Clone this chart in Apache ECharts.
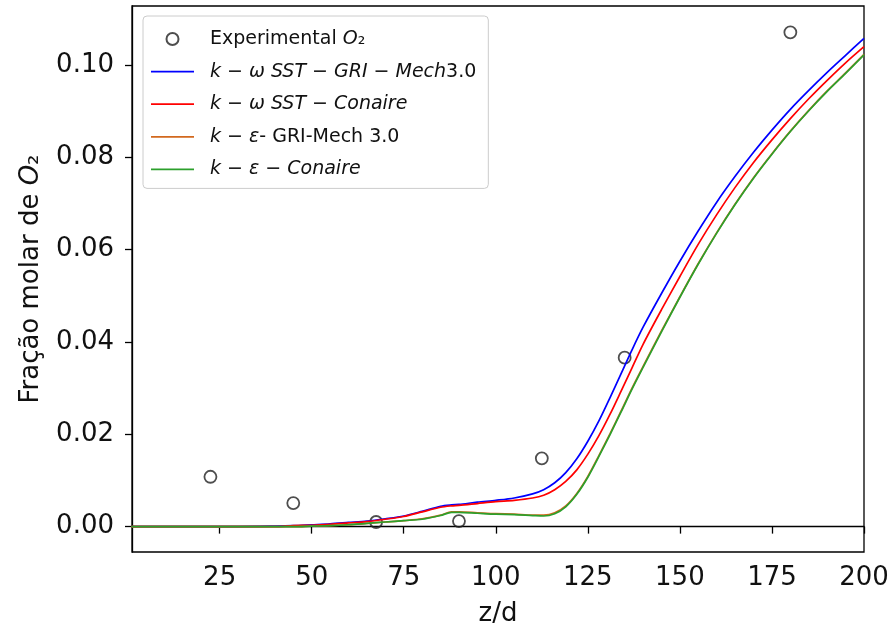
<!DOCTYPE html>
<html lang="pt">
<head>
    <meta charset="UTF-8">
    <title>Fração molar de O2</title>
    <script src="https://cdn.jsdelivr.net/npm/echarts@6/dist/echarts.min.js"></script>
</head>
<body style="margin: 0; background: #fff">
<div id="chart" style="width: 892px; height: 632px"></div>

<script>
    // pontos experimentais
    let expZ = [22.5, 45, 67.5, 90, 112.5, 135, 180];
    let expO2 = [0.0108, 0.0051, 0.0010, 0.0012, 0.0148, 0.0366, 0.1071];

    // posições z/d das curvas simuladas
    let zd = [1, 10, 20, 30, 40, 45, 50, 55, 60, 65, 70, 75, 80, 85, 88, 90, 95, 100, 105, 110,
              113, 116, 119, 122, 125, 128, 131, 134, 137, 140, 145, 150, 155, 160, 165, 170,
              175, 180, 185, 190, 195, 200];

    let kwGri = [0, 0, 0, 0, 0.0001, 0.0002, 0.0004, 0.0006, 0.0009, 0.0012, 0.0017, 0.0023, 0.0033, 0.0044, 0.0047, 0.0048, 0.0053, 0.0057, 0.0062, 0.0071,
                 0.0080, 0.0095, 0.0117, 0.0147, 0.0185, 0.0229, 0.0279, 0.0331, 0.0383, 0.0432, 0.0505, 0.0575, 0.0641, 0.0703, 0.0759, 0.0811,
                 0.0859, 0.0904, 0.0945, 0.0984, 0.1021, 0.1058];

    let kwConaire = [0, 0, 0, 0, 0, 0.0002, 0.0003, 0.0005, 0.0008, 0.0011, 0.0016, 0.0022, 0.0032, 0.0042, 0.0045, 0.0046, 0.0050, 0.0054, 0.0057, 0.0062,
                     0.0068, 0.0080, 0.0098, 0.0123, 0.0157, 0.0197, 0.0243, 0.0293, 0.0344, 0.0395, 0.0470, 0.0542, 0.0612, 0.0676, 0.0735, 0.0789,
                     0.0838, 0.0884, 0.0927, 0.0967, 0.1005, 0.1040];

    let keGri = [0, 0, 0, 0, 0, 0, 0.0001, 0.0002, 0.0004, 0.0007, 0.0010, 0.0013, 0.0017, 0.0025, 0.0032, 0.0032, 0.0030, 0.0028, 0.0027, 0.0025,
                 0.0025, 0.0030, 0.0045, 0.0072, 0.0109, 0.0154, 0.0201, 0.0250, 0.0300, 0.0347, 0.0424, 0.0498, 0.0570, 0.0637, 0.0699, 0.0756,
                 0.0808, 0.0857, 0.0902, 0.0944, 0.0983, 0.1023];

    let keConaire = [0, 0, 0, 0, 0, 0, 0.0001, 0.0002, 0.0004, 0.0007, 0.0010, 0.0013, 0.0016, 0.0024, 0.0031, 0.0031, 0.0029, 0.0027, 0.0026, 0.0024,
                     0.0023, 0.0028, 0.0043, 0.0070, 0.0107, 0.0152, 0.0199, 0.0248, 0.0298, 0.0345, 0.0422, 0.0497, 0.0569, 0.0636, 0.0698, 0.0755,
                     0.0807, 0.0856, 0.0901, 0.0943, 0.0982, 0.1022];

    let xTicks = [25, 50, 75, 100, 125, 150, 175, 200];
    let yTicks = [0, 0.02, 0.04, 0.06, 0.08, 0.10];

    let names = ['Experimental O2', 'kw SST GRI', 'kw SST Conaire', 'ke GRI', 'ke Conaire'];
    let legendText = {
        'Experimental O2': 'Experimental {i|O}₂',
        'kw SST GRI': '{i|k − ω SST − GRI − Mech}3.0',
        'kw SST Conaire': '{i|k − ω SST − Conaire}',
        'ke GRI': '{i|k − ε}- GRI-Mech 3.0',
        'ke Conaire': '{i|k − ε − Conaire}'
    };

    const font = 'DejaVu Sans';
    // ícone de linha simples para a legenda (sem marcador)
    const lineIcon = 'path://M0,0H43V1.7H0Z';

    function pairs(xs, ys) {
        return xs.map((x, i) => [x, ys[i]]);
    }

    function curve(name, ys, color) {
        return {
            name: name,
            type: 'line',
            data: pairs(zd, ys),
            symbol: 'none',
            smooth: 0.3,
            lineStyle: { color: color, width: 1.7 },
            itemStyle: { color: color }
        };
    }

    let chart = echarts.init(document.getElementById('chart'));

    let option = {
        animation: false,
        backgroundColor: '#fff',
        grid: {
            left: 132, right: 28, top: 6, bottom: 80,
            show: true, borderColor: '#000', borderWidth: 1.3
        },
        legend: {
            data: [
                { name: names[0] },
                { name: names[1], icon: lineIcon },
                { name: names[2], icon: lineIcon },
                { name: names[3], icon: lineIcon },
                { name: names[4], icon: lineIcon }
            ],
            orient: 'vertical',
            left: 143, top: 16,
            padding: [13, 12, 9, 8],
            itemGap: 12.6,
            itemWidth: 43,
            itemHeight: 12,
            selectedMode: false,
            backgroundColor: 'rgba(255,255,255,0.85)',
            borderColor: '#cccccc',
            borderWidth: 1,
            borderRadius: 4,
            formatter: name => legendText[name],
            textStyle: {
                fontFamily: font, fontSize: 19, color: '#111', lineHeight: 20,
                padding: [0, 0, 0, 11],
                rich: {
                    i: { fontFamily: font, fontSize: 19, fontStyle: 'italic', color: '#111', lineHeight: 20 }
                }
            }
        },
        xAxis: {
            type: 'value',
            min: 1.2, max: 200,
            name: 'z/d',
            nameLocation: 'middle',
            nameGap: 49,
            nameTextStyle: { fontFamily: font, fontSize: 26, color: '#111' },
            splitLine: { show: false },
            axisLine: { lineStyle: { color: '#000', width: 1.3 } },
            axisTick: { customValues: xTicks, length: 7, lineStyle: { color: '#000', width: 1.3 } },
            axisLabel: { customValues: xTicks, margin: 13, fontFamily: font, fontSize: 26, color: '#111' }
        },
        yAxis: {
            type: 'value',
            min: -0.0055, max: 0.1128,
            name: 'Fração molar de {i|O}₂',
            nameLocation: 'middle',
            nameGap: 88,
            nameTextStyle: {
                fontFamily: font, fontSize: 26, color: '#111',
                rich: { i: { fontFamily: font, fontSize: 26, fontStyle: 'italic', color: '#111' } }
            },
            splitLine: { show: false },
            axisLine: { show: true, lineStyle: { color: '#000', width: 1.3 } },
            axisTick: { show: true, customValues: yTicks, length: 7, lineStyle: { color: '#000', width: 1.3 } },
            axisLabel: {
                customValues: yTicks, margin: 18, fontFamily: font, fontSize: 26, color: '#111',
                formatter: v => v.toFixed(2)
            }
        },
        series: [
            {
                name: names[0],
                type: 'scatter',
                data: pairs(expZ, expO2),
                symbol: 'circle',
                symbolSize: 12,
                itemStyle: { color: 'rgba(0,0,0,0)', borderColor: '#222', borderWidth: 1.8 }
            },
            curve(names[1], kwGri, '#0000ff'),
            curve(names[2], kwConaire, '#ff0000'),
            curve(names[3], keGri, '#d2691e'),
            curve(names[4], keConaire, '#2ca02c')
        ]
    };

    chart.setOption(option);
</script>
</body>
</html>
